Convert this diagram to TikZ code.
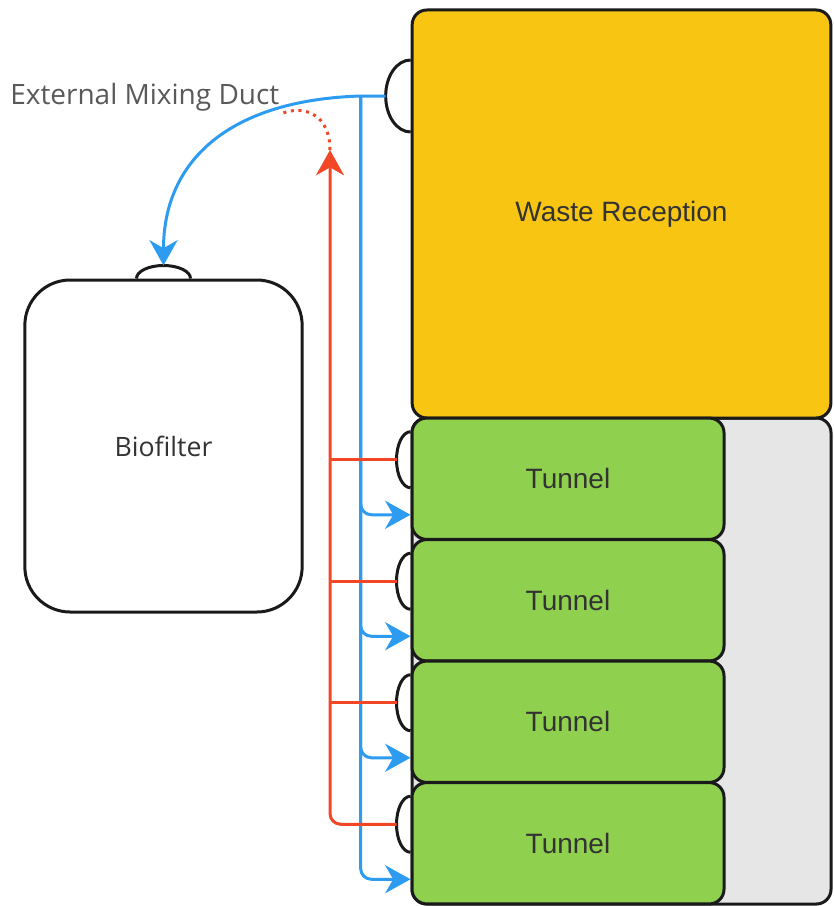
\documentclass[tikz,border=0pt]{standalone}
\usepackage{fontspec}
\newfontfamily\boxfont{Liberation Sans}
\newfontfamily\notefont{Open Sans}
\usetikzlibrary{arrows.meta,calc}
\definecolor{wasteyellow}{HTML}{F8C513}
\definecolor{tunnelgreen}{HTML}{8FD14F}
\definecolor{backgray}{HTML}{E6E6E6}
\definecolor{airblue}{HTML}{2D9BF0}
\definecolor{airred}{HTML}{F24726}
\definecolor{edge}{HTML}{1A1A1A}

\begin{document}
\begin{tikzpicture}
[x=0.75pt, y=-0.75pt,
 room/.style={draw=edge, line width=2.25pt, rounded corners=11pt, font=\boxfont\fontsize{21}{25}\selectfont, text=black!80},
 port/.style={draw=edge, line width=2.25pt},
 flowtip/.style={-{Stealth[length=19pt,width=21pt,inset=6pt]}},
 supply/.style={draw=airblue, line width=2.25pt, flowtip},
 exhaust/.style={draw=airred, line width=2.25pt}]
\useasboundingbox (0,0) rectangle (833,906);

\draw [draw=edge, line width=2.25pt, fill=backgray, rounded corners=11pt] (412,418) rectangle (831,904);
\node [room, fill=wasteyellow, minimum width=314pt, minimum height=306pt] (waste) at (621.5,214) {Waste Reception};
\foreach \i in {1,...,4}{
	\node [room, fill=tunnelgreen, minimum width=234pt, minimum height=91pt] (tunnel\i) at (568, 357.25+121.5*\i) {Tunnel};
	\coordinate (in\i) at ($(tunnel\i.west)+(0,36)$);
	\coordinate (out\i) at ($(tunnel\i.west)+(-14,-19)$);
	\draw [port] ($(tunnel\i.west)+(0,-47)$) arc [start angle=270, end angle=90, x radius=14, y radius=28];
}
\node [room, fill=white, rounded corners=34pt, minimum width=208pt, minimum height=249pt, font=\notefont\fontsize{20}{24}\selectfont] (biofilter) at (163.5,446) {Biofilter};
\node [font=\notefont\fontsize{21}{25}\selectfont, text=black!65, anchor=west, inner sep=0pt] (ductlabel) at (10,97) {External Mixing Duct};

\draw [port] ($(waste.west)+(0,-154)$) arc [start angle=270, end angle=90, x radius=25, y radius=36];
\draw [port] ($(biofilter.north)+(-27,0)$) arc [start angle=180, end angle=360, x radius=27, y radius=13];
\coordinate (wport) at ($(waste.west)+(-25,-118)$);
\coordinate (bport) at ($(biofilter.north)+(0,-13)$);
\coordinate (split) at ($(wport)+(-25,0)$);
\coordinate (mixtop) at (330,150);

\draw [supply] (wport) -- (split) .. controls (230,100) and (163.5,160) .. (bport);
\foreach \i in {1,...,4}
	\draw [supply, rounded corners=8pt] (split) |- (in\i);

\draw [exhaust, flowtip, rounded corners=8pt] (out4) -| (mixtop);
\foreach \i in {1,2,3}
	\draw [exhaust] (out\i) -- (out\i -| mixtop);
\draw [exhaust, dash pattern=on 2.25pt off 3.5pt] (mixtop) .. controls (330,115) and (305,105) .. (283,113);
\end{tikzpicture}
\end{document}
